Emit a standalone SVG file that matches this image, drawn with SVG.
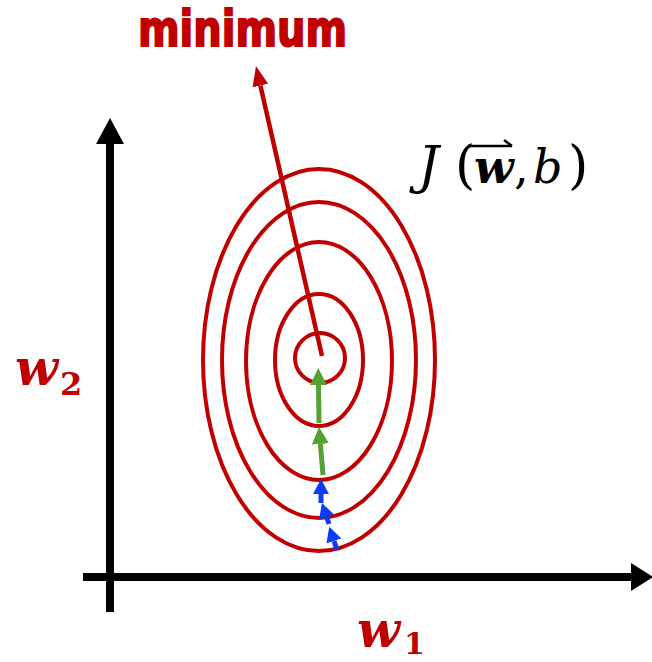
<svg xmlns="http://www.w3.org/2000/svg" width="652" height="662" viewBox="0 0 652 662">
<style>
.contour{fill:none;stroke:#C00000;stroke-width:4}
.axis{stroke:#000;stroke-width:8;fill:none}
.lbl{font-family:"DejaVu Serif",serif;font-weight:bold;fill:#C00000}
.math{font-family:"DejaVu Serif",serif;fill:#000}
</style>
<defs>
<marker id="hRed" markerUnits="userSpaceOnUse" viewBox="0 0 20 16" refX="0" refY="8" markerWidth="20" markerHeight="16" orient="auto"><path d="M0,0 L20,8 L0,16 z" fill="#C00000"/></marker>
<marker id="hGreen" markerUnits="userSpaceOnUse" viewBox="0 0 17 17" refX="0" refY="8.5" markerWidth="17" markerHeight="17" orient="auto"><path d="M0,0 L17,8.5 L0,17 z" fill="#54A234"/></marker>
<marker id="hBlue" markerUnits="userSpaceOnUse" viewBox="0 0 15 16" refX="0" refY="8" markerWidth="15" markerHeight="16" orient="auto"><path d="M0,0 L15,8 L0,16 z" fill="#0A3CF5"/></marker>
</defs>
<g id="axes">
<line class="axis" x1="110" y1="612" x2="110" y2="143"/>
<polygon points="96,144 124,144 110,118" fill="#000"/>
<line class="axis" x1="83" y1="577" x2="632" y2="577"/>
<polygon points="631,563 631,591 653,577" fill="#000"/>
</g>
<g id="contours">
<ellipse class="contour" cx="319" cy="360" rx="116" ry="191"/>
<ellipse class="contour" cx="319" cy="360" rx="97" ry="158"/>
<ellipse class="contour" cx="319" cy="361" rx="73" ry="119"/>
<ellipse class="contour" cx="319" cy="360" rx="44" ry="66"/>
<circle class="contour" cx="320" cy="358" r="25"/>
</g>
<g id="connectors">
<line x1="322" y1="356" x2="260.4" y2="85.5" stroke="#C00000" stroke-width="4.5" marker-end="url(#hRed)"/>
<line x1="319" y1="423" x2="318.5" y2="385" stroke="#54A234" stroke-width="5" marker-end="url(#hGreen)"/>
<line x1="323" y1="475" x2="320.4" y2="444" stroke="#54A234" stroke-width="5" marker-end="url(#hGreen)"/>
<line x1="321" y1="503" x2="321" y2="494" stroke="#0A3CF5" stroke-width="5" marker-end="url(#hBlue)"/>
<line x1="329" y1="524" x2="326.7" y2="517.2" stroke="#0A3CF5" stroke-width="5" marker-end="url(#hBlue)"/>
<line x1="337" y1="550" x2="334" y2="541" stroke="#0A3CF5" stroke-width="5" marker-end="url(#hBlue)"/>
</g>
<g id="label-minimum">
<text x="138" y="46" font-family="DejaVu Sans, sans-serif" font-weight="bold" font-size="50" fill="#C00000" stroke="#C00000" stroke-width="2" textLength="209" lengthAdjust="spacingAndGlyphs">minimum</text>
</g>
<g id="label-J">
<text class="math" y="183" font-size="46"><tspan x="418" font-style="italic" font-size="52">J</tspan><tspan x="455" font-size="52">(</tspan><tspan x="474" font-weight="bold" font-style="italic">w</tspan><tspan x="514">,</tspan><tspan x="533" font-style="italic">b</tspan><tspan x="568" font-size="52">)</tspan></text>
<path d="M468,146 H512 M504,140 L512,146" stroke="#000" stroke-width="2.5" fill="none"/>
</g>
<g id="label-w2">
<text class="lbl" x="15" y="385" font-size="50" font-style="italic">w</text>
<text class="lbl" x="60" y="395" font-size="32">2</text>
</g>
<g id="label-w1">
<text class="lbl" x="357" y="647" font-size="50" font-style="italic">w</text>
<text class="lbl" x="404" y="654" font-size="30">1</text>
</g>
</svg>
